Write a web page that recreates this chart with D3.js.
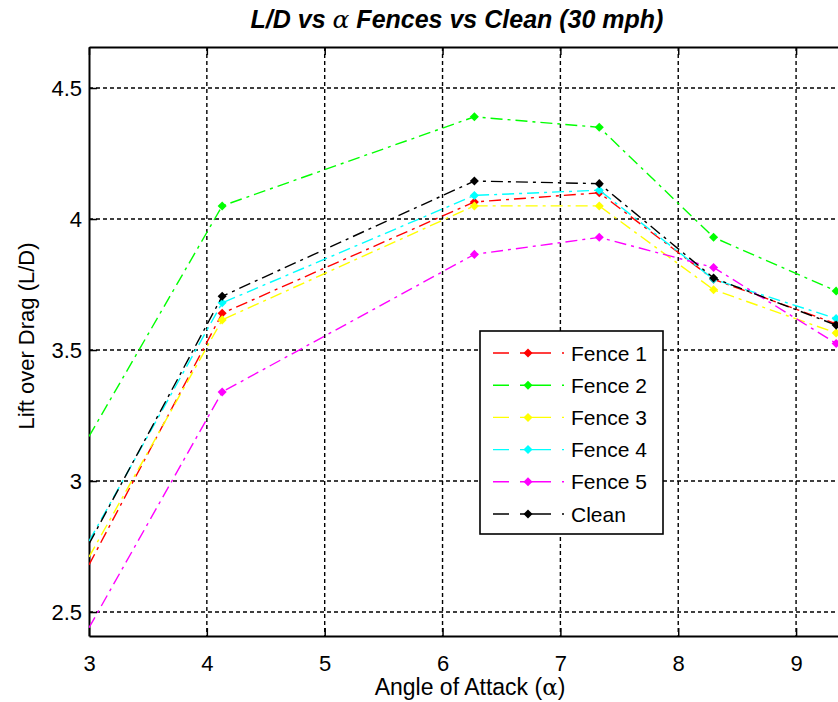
<!DOCTYPE html>
<html>
<head>
<meta charset="utf-8">
<script src="https://cdn.jsdelivr.net/npm/d3@7"></script>
<style>
  body { margin: 0; background: #fff; }
  svg text { font-family: "Liberation Sans", Arial, sans-serif; fill: #000; }
</style>
</head>
<body>
<div id="chart"></div>
<script>
// angle of attack (deg) and L/D per configuration
const alpha = [3, 4.13, 6.27, 7.33, 8.30, 9.34];
const fence1 = [2.68, 3.64, 4.065, 4.10, 3.77, 3.60];
const fence2 = [3.17, 4.05, 4.39, 4.35, 3.93, 3.725];
const fence3 = [2.71, 3.615, 4.05, 4.05, 3.73, 3.565];
const fence4 = [2.77, 3.68, 4.09, 4.11, 3.77, 3.62];
const fence5 = [2.44, 3.34, 3.865, 3.93, 3.815, 3.525];
const clean = [2.76, 3.705, 4.145, 4.135, 3.775, 3.595];

const seriesNames = ["Fence 1", "Fence 2", "Fence 3", "Fence 4", "Fence 5", "Clean"];
const seriesValues = [fence1, fence2, fence3, fence4, fence5, clean];
const seriesColors = ["#ff0000", "#00ff00", "#ffff00", "#00ffff", "#ff00ff", "#000000"];

const xTicks = [3, 4, 5, 6, 7, 8, 9];
const yTicks = [2.5, 3, 3.5, 4, 4.5];

const W = 838, H = 702;
const margin = { top: 47, left: 89 };
const plotW = 766, plotH = 589;

const svg = d3.select("#chart").append("svg")
    .attr("width", W)
    .attr("height", H);

const x = d3.scaleLinear().domain([3, 9.5]).range([margin.left, margin.left + plotW]);
const y = d3.scaleLinear().domain([2.4085, 4.6565]).range([margin.top + plotH, margin.top]);

svg.append("clipPath").attr("id", "plotclip")
    .append("rect")
    .attr("x", margin.left).attr("y", margin.top)
    .attr("width", plotW).attr("height", plotH);

// grid
const grid = svg.append("g").attr("class", "grid");
grid.selectAll(".vgrid")
    .data(xTicks.filter(d => d > 3))
    .enter().append("line")
    .attr("x1", d => x(d)).attr("x2", d => x(d))
    .attr("y1", margin.top).attr("y2", margin.top + plotH);
grid.selectAll(".hgrid")
    .data(yTicks)
    .enter().append("line")
    .attr("x1", margin.left).attr("x2", margin.left + plotW)
    .attr("y1", d => y(d)).attr("y2", d => y(d));
grid.selectAll("line")
    .attr("stroke", "#000")
    .attr("stroke-width", 1.4)
    .attr("stroke-dasharray", "4,3");

// axes
const bottomAxis = d3.axisBottom(x).tickValues(xTicks).tickSizeInner(-8).tickSizeOuter(0).tickPadding(19).tickFormat(d3.format("d"));
const topAxis = d3.axisTop(x).tickValues(xTicks).tickSizeInner(-8).tickSizeOuter(0).tickFormat("");
const leftAxis = d3.axisLeft(y).tickValues(yTicks).tickSizeInner(-8).tickSizeOuter(0).tickPadding(7).tickFormat(d3.format(""));

svg.append("g").attr("class", "axis")
    .attr("transform", "translate(0," + (margin.top + plotH) + ")")
    .call(bottomAxis);
svg.append("g").attr("class", "axis")
    .attr("transform", "translate(0," + margin.top + ")")
    .call(topAxis);
svg.append("g").attr("class", "axis")
    .attr("transform", "translate(" + margin.left + ",0)")
    .call(leftAxis);

svg.selectAll(".axis path").attr("stroke", "#000").attr("stroke-width", 2);
svg.selectAll(".axis line").attr("stroke", "#000").attr("stroke-width", 1.5);
svg.selectAll(".axis text")
    .style("font-family", "'Liberation Sans', Arial, sans-serif")
    .attr("font-size", 22)
    .attr("fill", "#000");

// series
const line = d3.line()
    .x((d, i) => x(alpha[i]))
    .y(d => y(d));

const marker = d3.symbol().type(d3.symbolDiamond2 || d3.symbolDiamond).size(52);

const plot = svg.append("g").attr("clip-path", "url(#plotclip)");

seriesValues.forEach((vals, k) => {
    plot.append("path")
        .attr("d", line(vals))
        .attr("fill", "none")
        .attr("stroke", seriesColors[k])
        .attr("stroke-width", 1.4)
        .attr("stroke-dasharray", "12,5,3,5");
    plot.selectAll(".m" + k)
        .data(vals.map((v, i) => [alpha[i], v]).filter(d => d[0] > 3))
        .enter().append("path")
        .attr("d", marker)
        .attr("transform", d => "translate(" + x(d[0]) + "," + y(d[1]) + ")")
        .attr("fill", seriesColors[k]);
});

// legend
const legend = svg.append("g").attr("transform", "translate(480,331)");
legend.append("rect")
    .attr("width", 183).attr("height", 203)
    .attr("fill", "#fff")
    .attr("stroke", "#000")
    .attr("stroke-width", 1.6);

seriesNames.forEach((name, k) => {
    const ly = 22 + k * 32.2;
    legend.append("line")
        .attr("x1", 13).attr("x2", 84)
        .attr("y1", ly).attr("y2", ly)
        .attr("stroke", seriesColors[k])
        .attr("stroke-width", 1.4)
        .attr("stroke-dasharray", "16,11,31,11,2");
    legend.append("path")
        .attr("d", marker)
        .attr("transform", "translate(48," + ly + ")")
        .attr("fill", seriesColors[k]);
    legend.append("text")
        .attr("x", 91).attr("y", ly)
        .attr("dy", "0.36em")
        .attr("font-size", 21)
        .text(name);
});

// titles
const title = svg.append("text")
    .attr("x", 457).attr("y", 28)
    .attr("text-anchor", "middle")
    .attr("font-size", 25)
    .attr("font-weight", "bold")
    .attr("font-style", "italic");
title.append("tspan").text("L/D vs ");
title.append("tspan").attr("font-family", "'DejaVu Serif', serif").attr("font-weight", "normal").text("\u03b1");
title.append("tspan").text(" Fences vs Clean (30 mph)");

const xl = svg.append("text")
    .attr("x", 470).attr("y", 695)
    .attr("text-anchor", "middle")
    .attr("font-size", 23);
xl.append("tspan").text("Angle of Attack (");
xl.append("tspan").attr("font-family", "'DejaVu Serif', serif").text("\u03b1");
xl.append("tspan").text(")");

svg.append("text")
    .attr("transform", "translate(34,336) rotate(-90)")
    .attr("text-anchor", "middle")
    .attr("font-size", 22)
    .text("Lift over Drag (L/D)");
</script>
</body>
</html>
